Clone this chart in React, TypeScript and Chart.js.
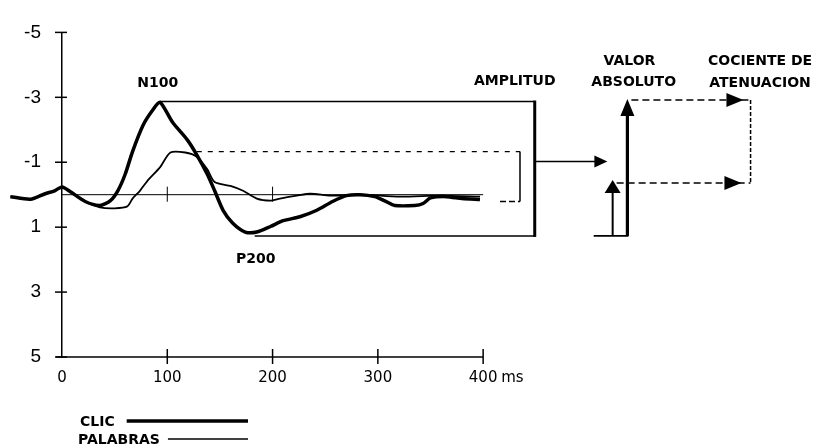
import React, { useEffect, useRef } from 'react';
import { Chart, registerables } from 'chart.js';

Chart.register(...registerables);

// ---- data (time in ms, amplitude in µV; negative up) ----
const CLIC_TIME = [-49, -30, -16, -7, 0, 8, 22, 36, 46, 53, 60, 67, 77, 86, 93, 105, 119, 128, 138, 145, 153, 162, 174, 185, 198, 210, 226, 242, 257, 270, 283, 297, 307, 316, 335, 343, 350, 365, 380, 397];
const CLIC_VALUES = [0.06, 0.14, -0.03, -0.12, -0.24, -0.09, 0.21, 0.33, 0.18, -0.12, -0.63, -1.33, -2.14, -2.6, -2.85, -2.23, -1.69, -1.23, -0.63, -0.12, 0.48, 0.87, 1.15, 1.15, 0.98, 0.8, 0.68, 0.48, 0.21, 0.03, 0.0, 0.06, 0.2, 0.33, 0.33, 0.27, 0.1, 0.06, 0.12, 0.15];

const PALABRAS_TIME = [-49, -30, -16, -7, 0, 8, 22, 36, 50, 62, 67, 74, 81, 93, 103, 117, 128, 138, 145, 160, 172, 185, 198, 207, 223, 236, 255, 283, 321, 359, 397];
const PALABRAS_VALUES = [0.06, 0.14, -0.03, -0.12, -0.24, -0.09, 0.21, 0.39, 0.42, 0.36, 0.12, -0.12, -0.42, -0.84, -1.3, -1.3, -1.17, -0.78, -0.39, -0.27, -0.12, 0.12, 0.18, 0.12, 0.03, -0.03, 0.03, 0.0, 0.06, 0.03, 0.06];

const X_TICKS = [0, 100, 200, 300, 400];
const Y_TICKS = [-5, -3, -1, 1, 3, 5];
const ZERO_LINE_TICKS = [100, 200];
const X_UNIT = 'ms';
const X_RANGE = [0, 700];

// ---- annotation geometry, in data units (ms / µV) ----
const OUTER_BOX_X = [93, 183, 449];      // top start, bottom start, right edge
const OUTER_BOX_Y = [-2.87, 1.27];       // top, bottom
const INNER_BOX_X = [128, 416, 435];     // top start, bottom start, right edge
const INNER_BOX_Y = [-1.33, 0.21];       // top, bottom
const LINK_ARROW = [449, 518, -1.02];    // x from, x to, y
const VALUE_BASE = [505, 538, 1.27];     // x from, x to, y
const BIG_ARROW = [537, -2.95];          // x, top
const SMALL_ARROW = [523, -0.45];        // x, top
const RATIO_X = [654, 651];              // dashed right edge, arrow tip

const LABELS: { text: string; x: number; y: number }[] = [
  { text: 'N100', x: 91, y: -3.43 },
  { text: 'P200', x: 184, y: 1.99 },
  { text: 'AMPLITUD', x: 430, y: -3.49 },
  { text: 'VALOR', x: 539, y: -4.1 },
  { text: 'ABSOLUTO', x: 543, y: -3.46 },
  { text: 'COCIENTE DE', x: 663, y: -4.1 },
  { text: 'ATENUACION', x: 663, y: -3.43 },
];

const LEGEND = [
  { text: 'CLIC', width: 3.5 },
  { text: 'PALABRAS', width: 1.6 },
];

const LABEL_FONT = 'bold 14px "DejaVu Sans", sans-serif';

const annotationPlugin = {
  id: 'erpAnnotations',
  beforeDatasetsDraw(chart: any) {
    const ctx = chart.ctx;
    const xs = chart.scales.x;
    const ys = chart.scales.y;
    const X = (v: number) => xs.getPixelForValue(v);
    const Y = (v: number) => ys.getPixelForValue(v);
    ctx.save();
    ctx.strokeStyle = '#000';
    // x axis line (0..400) at y = 5
    ctx.lineWidth = 1.5;
    ctx.beginPath();
    ctx.moveTo(X(0) - 6, Y(5));
    ctx.lineTo(X(400), Y(5));
    ctx.stroke();
    X_TICKS.slice(1).forEach((t) => {
      ctx.beginPath();
      ctx.moveTo(X(t), Y(5) - 8);
      ctx.lineTo(X(t), Y(5) + 7);
      ctx.stroke();
    });
    // y ticks
    Y_TICKS.forEach((t) => {
      ctx.beginPath();
      ctx.moveTo(X(0) - 7, Y(t));
      ctx.lineTo(X(0) + 5, Y(t));
      ctx.stroke();
    });
    // zero line
    ctx.lineWidth = 1;
    ctx.beginPath();
    ctx.moveTo(X(0), Y(0));
    ctx.lineTo(X(400), Y(0));
    ctx.stroke();
    ZERO_LINE_TICKS.forEach((t) => {
      ctx.beginPath();
      ctx.moveTo(X(t), Y(0) - 8);
      ctx.lineTo(X(t), Y(0) + 7);
      ctx.stroke();
    });
    ctx.restore();
  },
  afterDatasetsDraw(chart: any) {
    const ctx = chart.ctx;
    const xs = chart.scales.x;
    const ys = chart.scales.y;
    const X = (v: number) => xs.getPixelForValue(v);
    const Y = (v: number) => ys.getPixelForValue(v);
    const line = (x1: number, y1: number, x2: number, y2: number, w: number, dash: number[] = []) => {
      ctx.lineWidth = w;
      ctx.setLineDash(dash);
      ctx.beginPath();
      ctx.moveTo(x1, y1);
      ctx.lineTo(x2, y2);
      ctx.stroke();
      ctx.setLineDash([]);
    };
    const head = (tx: number, ty: number, dir: 'up' | 'right', len: number, half: number) => {
      ctx.beginPath();
      if (dir === 'up') {
        ctx.moveTo(tx, ty);
        ctx.lineTo(tx - half, ty + len);
        ctx.lineTo(tx + half, ty + len);
      } else {
        ctx.moveTo(tx, ty);
        ctx.lineTo(tx - len, ty - half);
        ctx.lineTo(tx - len, ty + half);
      }
      ctx.closePath();
      ctx.fill();
    };
    ctx.save();
    ctx.strokeStyle = '#000';
    ctx.fillStyle = '#000';

    // outer AMPLITUD box
    const oTop = Y(OUTER_BOX_Y[0]);
    const oBot = Y(OUTER_BOX_Y[1]);
    const oRight = X(OUTER_BOX_X[2]);
    line(X(OUTER_BOX_X[0]), oTop, oRight, oTop, 1.5);
    line(X(OUTER_BOX_X[1]), oBot, oRight, oBot, 1.5);
    line(oRight, oTop - 1, oRight, oBot + 1, 3);

    // inner dashed bracket
    const iTop = Y(INNER_BOX_Y[0]);
    const iBot = Y(INNER_BOX_Y[1]);
    const iRight = X(INNER_BOX_X[2]);
    line(X(INNER_BOX_X[0]), iTop, iRight, iTop, 1.2, [5, 6]);
    line(iRight, iTop, iRight, iBot, 1.5);
    line(X(INNER_BOX_X[1]), iBot, iRight, iBot, 1.5, [6, 3]);

    // link arrow
    line(X(LINK_ARROW[0]), Y(LINK_ARROW[2]), X(LINK_ARROW[1]) - 10, Y(LINK_ARROW[2]), 1.5);
    head(X(LINK_ARROW[1]), Y(LINK_ARROW[2]), 'right', 13, 6);

    // value arrows
    const base = Y(VALUE_BASE[2]);
    line(X(VALUE_BASE[0]), base, X(VALUE_BASE[1]), base, 1.8);
    line(X(BIG_ARROW[0]), base, X(BIG_ARROW[0]), Y(BIG_ARROW[1]) + 12, 3.2);
    head(X(BIG_ARROW[0]), Y(BIG_ARROW[1]), 'up', 17, 7);
    line(X(SMALL_ARROW[0]), base, X(SMALL_ARROW[0]), Y(SMALL_ARROW[1]) + 10, 2);
    head(X(SMALL_ARROW[0]), Y(SMALL_ARROW[1]), 'up', 13, 8);

    // attenuation ratio dashed lines
    const topY = Y(BIG_ARROW[1]) + 1;
    const lowY = Y(SMALL_ARROW[1]) + 3;
    const rightX = X(RATIO_X[0]);
    line(X(BIG_ARROW[0]) + 4, topY, rightX, topY, 1.5, [7, 4]);
    line(X(SMALL_ARROW[0]) + 4, lowY, rightX, lowY, 1.5, [7, 4]);
    line(rightX, topY, rightX, lowY, 1.5, [4, 2]);
    head(X(RATIO_X[1]) - 4, topY, 'right', 17, 7);
    head(X(RATIO_X[1]) - 6, lowY, 'right', 17, 7);

    // text labels
    ctx.font = LABEL_FONT;
    ctx.textAlign = 'center';
    ctx.textBaseline = 'middle';
    LABELS.forEach((l) => ctx.fillText(l.text, X(l.x), Y(l.y)));

    ctx.restore();
  },
  afterDraw(chart: any) {
    const ctx = chart.ctx;
    const xs = chart.scales.x;
    const area = chart.chartArea;
    ctx.save();
    ctx.fillStyle = '#000';
    ctx.strokeStyle = '#000';
    // unit after last x tick
    ctx.font = '15px "DejaVu Sans", sans-serif';
    ctx.textAlign = 'left';
    ctx.textBaseline = 'middle';
    ctx.fillText(X_UNIT, xs.getPixelForValue(X_TICKS[X_TICKS.length - 1]) + 18, area.bottom + 21);
    // legend
    ctx.font = LABEL_FONT;
    ctx.textAlign = 'left';
    LEGEND.forEach((item, i) => {
      const y = area.bottom + 64 + i * 18;
      ctx.fillText(item.text, 80 - (i === 1 ? 2 : 0), y + 1);
      const tw = ctx.measureText(item.text).width;
      ctx.lineWidth = item.width;
      ctx.beginPath();
      ctx.moveTo(80 + tw + (i === 0 ? 12 : 6), y);
      ctx.lineTo(248, y);
      ctx.stroke();
    });
    ctx.restore();
  },
};

export default function App() {
  const canvasRef = useRef<HTMLCanvasElement | null>(null);

  useEffect(() => {
    if (!canvasRef.current) return;
    const chart = new Chart(canvasRef.current, {
      type: 'line',
      data: {
        datasets: [
          {
            label: 'CLIC',
            data: CLIC_TIME.map((t, i) => ({ x: t, y: CLIC_VALUES[i] })),
            borderColor: '#000',
            borderWidth: 3.5,
            pointRadius: 0,
            tension: 0.25,
            fill: false,
            clip: false,
          },
          {
            label: 'PALABRAS',
            data: PALABRAS_TIME.map((t, i) => ({ x: t, y: PALABRAS_VALUES[i] })),
            borderColor: '#000',
            borderWidth: 1.8,
            pointRadius: 0,
            tension: 0.25,
            fill: false,
            clip: false,
          },
        ],
      },
      options: {
        animation: false,
        responsive: false,
        maintainAspectRatio: false,
        layout: { padding: { left: 0, right: 14, top: 25, bottom: 0 } },
        plugins: { legend: { display: false }, tooltip: { enabled: false } },
        scales: {
          x: {
            type: 'linear',
            grid: { display: false, drawTicks: false },
            border: { display: false },
            afterDataLimits: (s: any) => {
              s.min = X_RANGE[0];
              s.max = X_RANGE[1];
            },
            afterBuildTicks: (s: any) => {
              s.ticks = X_TICKS.map((v) => ({ value: v }));
            },
            afterFit: (s: any) => {
              s.height = 91;
            },
            ticks: {
              autoSkip: false,
              maxRotation: 0,
              padding: 12,
              color: '#000',
              font: { family: '"DejaVu Sans", sans-serif', size: 15 },
              callback: (v: any) => String(v),
            },
          },
          y: {
            type: 'linear',
            min: -5,
            max: 5,
            reverse: true,
            position: 'left',
            grid: { display: false, drawTicks: false },
            border: { display: true, color: '#000', width: 1.5 },
            afterBuildTicks: (s: any) => {
              s.ticks = Y_TICKS.map((v) => ({ value: v }));
            },
            afterFit: (s: any) => {
              s.width = 62;
            },
            ticks: {
              padding: 21,
              color: '#000',
              font: { family: '"Liberation Sans", Arial, sans-serif', size: 19 },
              callback: (v: any) => String(v),
            },
          },
        },
      },
      plugins: [annotationPlugin],
    });
    return () => chart.destroy();
  }, []);

  return (
    <div style={{ position: 'fixed', left: 0, top: 0, width: 813, height: 448, background: '#fff' }}>
      <canvas ref={canvasRef} width={813} height={448} style={{ display: 'block' }} />
    </div>
  );
}
